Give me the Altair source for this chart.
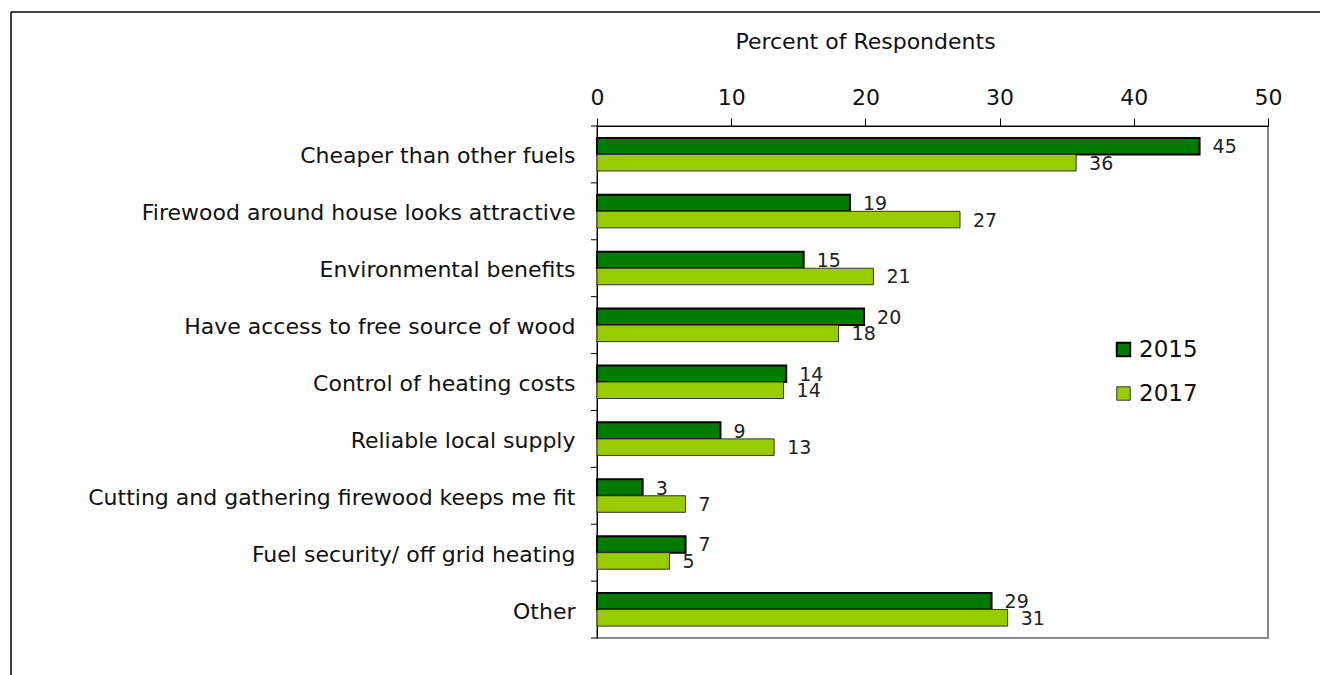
import altair as alt
import pandas as pd

categories = [
    "Cheaper than other fuels",
    "Firewood around house looks attractive",
    "Environmental benefits",
    "Have access to free source of wood",
    "Control of heating costs",
    "Reliable local supply",
    "Cutting and gathering firewood keeps me fit",
    "Fuel security/ off grid heating",
    "Other",
]
years = ["2015", "2017"]
v2015 = [44.9, 18.85, 15.4, 19.9, 14.1, 9.2, 3.4, 6.6, 29.4]
v2017 = [35.7, 27.05, 20.6, 18.0, 13.9, 13.2, 6.6, 5.4, 30.6]
lab2015 = ["45", "19", "15", "20", "14", "9", "3", "7", "29"]
lab2017 = ["36", "27", "21", "18", "14", "13", "7", "5", "31"]
x_ticks = [0, 10, 20, 30, 40, 50]
colors = ["#007a00", "#99cc00"]

rows = []
for c, a, b, la, lb in zip(categories, v2015, v2017, lab2015, lab2017):
    rows.append({"cat": c, "year": "2015", "value": a, "label": la})
    rows.append({"cat": c, "year": "2017", "value": b, "label": lb})
df = pd.DataFrame(rows)
cat_df = pd.DataFrame({"cat": categories})

FONT = "DejaVu Sans"
W, H = 671, 512
PL, PT = 597, 126

y_enc = alt.Y(
    "cat:N", sort=categories,
    scale=alt.Scale(paddingInner=0, paddingOuter=0),
    axis=alt.Axis(title=None, ticks=False, labelFontSize=22, labelPadding=22,
                  labelOffset=2, labelColor="#111", domainColor="#000", labelLimit=700),
)
yoff = alt.YOffset("year:N", scale=alt.Scale(paddingOuter=0.72, paddingInner=0))
x_enc = alt.X(
    "value:Q",
    scale=alt.Scale(domain=[0, 50], nice=False),
    axis=alt.Axis(orient="top", values=x_ticks, grid=False, tickSize=8,
                  tickColor="#000", domainColor="#000", labelFontSize=22,
                  labelColor="#111", labelPadding=9, labelFlush=False,
                  title="Percent of Respondents",
                  titleFontSize=22, titleFontWeight="normal", titleColor="#111",
                  titleX=268, titleY=-85, titleAlign="center", titleBaseline="middle",
                  titleAnchor="start"),
)

bars = alt.Chart(df).mark_bar().encode(
    y=y_enc,
    yOffset=yoff,
    x=x_enc,
    fill=alt.Fill("year:N", scale=alt.Scale(domain=years, range=colors),
                  legend=alt.Legend(title=None, orient="none", legendX=515, legendY=212,
                                    symbolType="square", symbolSize=180,
                                    symbolStrokeColor="#000", symbolStrokeWidth=1.5,
                                    labelFontSize=23, labelColor="#111",
                                    rowPadding=20, labelOffset=4)),
    stroke=alt.Stroke("year:N", scale=alt.Scale(domain=years, range=["#000", "#333"]), legend=None),
    strokeWidth=alt.StrokeWidth("year:N", scale=alt.Scale(domain=years, range=[2, 1]), legend=None),
)

texts = alt.Chart(df).mark_text(align="left", baseline="middle", dx=13, dy=1,
                                fontSize=19, font=FONT, color="#222").encode(
    y=alt.Y("cat:N", sort=categories),
    yOffset=alt.YOffset("year:N"),
    x=alt.X("value:Q"),
    text="label:N",
)

cat_ticks = alt.Chart(cat_df).mark_rule(color="#000", strokeWidth=1).encode(
    y=alt.Y("cat:N", sort=categories, bandPosition=0),
    x=alt.value(-6), x2=alt.value(0),
)
bottom_tick = alt.Chart(cat_df.head(1)).mark_rule(color="#000", strokeWidth=1).encode(
    y=alt.value(H), x=alt.value(-6), x2=alt.value(0),
)
frame_top = alt.Chart(cat_df.head(1)).mark_rule(color="#000", strokeWidth=1.5).encode(
    y=alt.value(12 - PT), x=alt.value(11 - PL), x2=alt.value(1320 - PL),
)
frame_left = alt.Chart(cat_df.head(1)).mark_rule(color="#000", strokeWidth=1.5).encode(
    x=alt.value(11 - PL), y=alt.value(12 - PT), y2=alt.value(675 - PT),
)

chart = alt.layer(bars, texts, cat_ticks, bottom_tick, frame_top, frame_left).properties(
    width=W, height=H,
    autosize=alt.AutoSizeParams(type="none"),
    padding={"left": PL, "top": PT, "right": 1320 - PL - W, "bottom": 675 - PT - H},
).configure(
    font=FONT,
).configure_view(
    stroke="#8a8a8a", strokeWidth=2,
).configure_axis(
    labelFont=FONT, titleFont=FONT,
)

chart.save("out.html", embed_options={"renderer": "svg", "actions": False})
